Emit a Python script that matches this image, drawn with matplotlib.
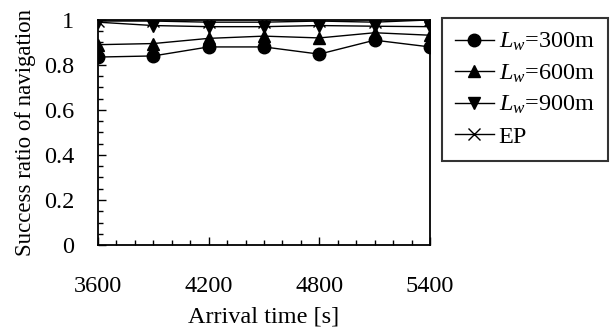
import matplotlib
matplotlib.use('Agg')
import matplotlib.pyplot as plt
from matplotlib.ticker import MultipleLocator

plt.rcParams['font.family'] = ['Liberation Serif', 'DejaVu Serif']
plt.rcParams['mathtext.fontset'] = 'custom'
plt.rcParams['mathtext.rm'] = 'Liberation Serif'
plt.rcParams['mathtext.it'] = 'Liberation Serif:italic'

arrival = [3600, 3900, 4200, 4500, 4800, 5100, 5400]
lw300 = [0.835, 0.84, 0.88, 0.88, 0.848, 0.91, 0.88]
lw600 = [0.89, 0.895, 0.918, 0.928, 0.92, 0.943, 0.932]
lw900 = [0.99, 0.975, 0.97, 0.97, 0.975, 0.972, 0.97]
ep = [0.995, 0.995, 0.99, 0.99, 0.995, 0.99, 1.0]

labels = ['$L_w$=300m', '$L_w$=600m', '$L_w$=900m', 'EP']
markers = ['o', '^', 'v', 'x']
fs = 17.5

fig = plt.figure(figsize=(6.16, 3.32), dpi=100)
ax = fig.add_axes([0.159, 0.262, 0.539, 0.678])

for vals, mk, lab in zip([lw300, lw600, lw900, ep], markers, labels):
    ax.plot(arrival, vals, color='black', marker=mk, markersize=9,
            linewidth=1, markeredgewidth=1, label=lab)

ax.set_xlim(3600, 5400)
ax.set_ylim(0, 1)
ax.xaxis.set_major_locator(MultipleLocator(600))
ax.xaxis.set_minor_locator(MultipleLocator(100))
ax.yaxis.set_minor_locator(MultipleLocator(0.05))
ax.set_yticks([0, 0.2, 0.4, 0.6, 0.8, 1])
ax.set_yticklabels(['0', '0.2', '0.4', '0.6', '0.8', '1'])
ax.tick_params(which='major', direction='in', length=6, width=1,
               labelsize=fs, top=False, right=False)
ax.tick_params(which='minor', direction='in', length=3.6, width=1,
               top=False, right=False)
ax.tick_params(axis='x', which='major', pad=22)
ax.tick_params(axis='y', which='major', pad=17)
for s in ax.spines.values():
    s.set_linewidth(1.3)

ax.set_xlabel('Arrival time [s]', fontsize=fs, labelpad=7)
ax.set_ylabel('Success ratio of navigation', fontsize=16.5, labelpad=6)

leg = ax.legend(loc='upper left', bbox_to_anchor=(1.035, 1.01), fontsize=fs,
                frameon=True, fancybox=False, edgecolor='black',
                handlelength=1.6, handletextpad=0.2, labelspacing=0.38,
                borderpad=0.55, borderaxespad=0)
leg.get_frame().set_linewidth(1.5)

fig.savefig('out.png', dpi=100)
